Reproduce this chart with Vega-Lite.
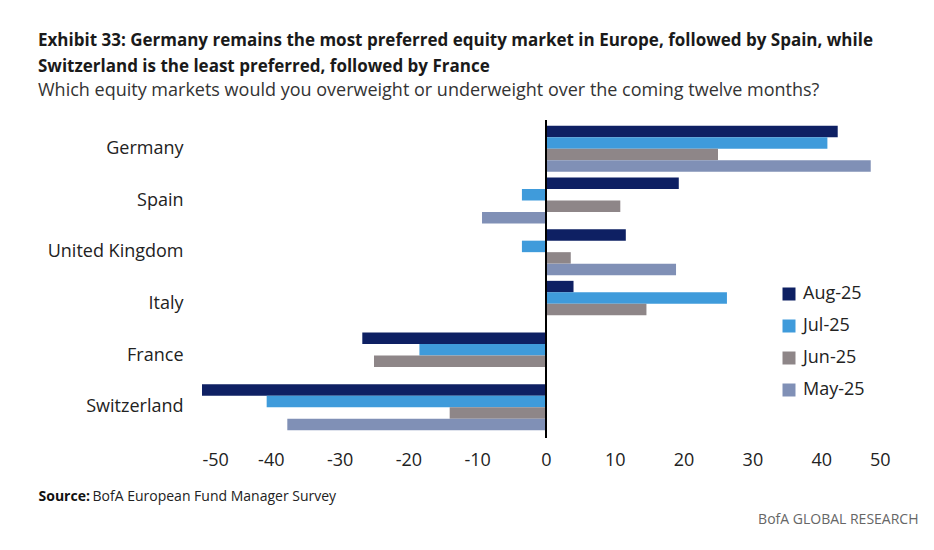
{
  "$schema": "https://vega.github.io/schema/vega-lite/v6.json",
  "width": 688,
  "height": 310,
  "autosize": {"type": "none"},
  "padding": {"left": 202, "top": 123, "right": 44, "bottom": 117},
  "background": "white",
  "config": {
    "view": {"stroke": null},
    "font": "Open Sans, sans-serif"
  },
  "title": {
    "text": ["Exhibit 33: Germany remains the most preferred equity market in Europe, followed by Spain, while", "Switzerland is the least preferred, followed by France"],
    "subtitle": "Which equity markets would you overweight or underweight over the coming twelve months?",
    "anchor": "start",
    "frame": "group",
    "dx": -164,
    "offset": 18,
    "font": "Open Sans, sans-serif",
    "fontSize": 17,
    "fontWeight": "bold",
    "color": "#1a1a1a",
    "lineHeight": 26,
    "subtitleFont": "Open Sans, sans-serif",
    "subtitleFontSize": 18,
    "subtitleColor": "#333333",
    "subtitlePadding": 6
  },
  "data": {
    "values": [
      {"Country": "Germany", "Month": "Aug-25", "Value": 42.4},
      {"Country": "Germany", "Month": "Jul-25", "Value": 40.9},
      {"Country": "Germany", "Month": "Jun-25", "Value": 25.0},
      {"Country": "Germany", "Month": "May-25", "Value": 47.2},
      {"Country": "Spain", "Month": "Aug-25", "Value": 19.3},
      {"Country": "Spain", "Month": "Jul-25", "Value": -3.5},
      {"Country": "Spain", "Month": "Jun-25", "Value": 10.8},
      {"Country": "Spain", "Month": "May-25", "Value": -9.3},
      {"Country": "United Kingdom", "Month": "Aug-25", "Value": 11.6},
      {"Country": "United Kingdom", "Month": "Jul-25", "Value": -3.5},
      {"Country": "United Kingdom", "Month": "Jun-25", "Value": 3.6},
      {"Country": "United Kingdom", "Month": "May-25", "Value": 18.9},
      {"Country": "Italy", "Month": "Aug-25", "Value": 4.0},
      {"Country": "Italy", "Month": "Jul-25", "Value": 26.3},
      {"Country": "Italy", "Month": "Jun-25", "Value": 14.6},
      {"Country": "Italy", "Month": "May-25", "Value": 0},
      {"Country": "France", "Month": "Aug-25", "Value": -26.7},
      {"Country": "France", "Month": "Jul-25", "Value": -18.4},
      {"Country": "France", "Month": "Jun-25", "Value": -25.0},
      {"Country": "France", "Month": "May-25", "Value": 0},
      {"Country": "Switzerland", "Month": "Aug-25", "Value": -50.0},
      {"Country": "Switzerland", "Month": "Jul-25", "Value": -40.6},
      {"Country": "Switzerland", "Month": "Jun-25", "Value": -14.0},
      {"Country": "Switzerland", "Month": "May-25", "Value": -37.6}
    ]
  },
  "layer": [
    {
      "mark": {"type": "bar"},
      "encoding": {
        "y": {
          "field": "Country",
          "type": "nominal",
          "sort": ["Germany", "Spain", "United Kingdom", "Italy", "France", "Switzerland"],
          "scale": {"paddingInner": 0.11, "paddingOuter": 0.055},
          "axis": {
            "title": "BofA European Fund Manager Survey",
            "titleAngle": 0,
            "titleX": -110,
            "titleY": 377,
            "titleAlign": "left",
            "titleBaseline": "alphabetic",
            "titleFont": "Open Sans",
            "titleFontSize": 14,
            "titleFontWeight": "normal",
            "titleColor": "#222222",
            "domain": false,
            "ticks": false,
            "labelPadding": 19,
            "labelFontSize": 18,
            "labelColor": "#222222"
          }
        },
        "yOffset": {
          "field": "Month",
          "type": "nominal",
          "sort": ["Aug-25", "Jul-25", "Jun-25", "May-25"]
        },
        "x": {
          "field": "Value",
          "type": "quantitative",
          "scale": {"domain": [-50, 50], "nice": false},
          "axis": {
            "values": [-50, -40, -30, -20, -10, 0, 10, 20, 30, 40, 50],
            "labelExpr": "replace(datum.label, '\u2212', '-')",
            "grid": false,
            "domain": false,
            "ticks": false,
            "labelPadding": 18,
            "labelFontSize": 18,
            "labelColor": "#222222",
            "title": "Source:",
            "titleX": -164,
            "titleY": 67,
            "titleAlign": "left",
            "titleBaseline": "alphabetic",
            "titleFont": "Open Sans",
            "titleFontSize": 14,
            "titleFontWeight": "bold",
            "titleColor": "#111111"
          }
        },
        "color": {
          "field": "Month",
          "type": "nominal",
          "sort": ["Aug-25", "Jul-25", "Jun-25", "May-25"],
          "scale": {
            "domain": ["Aug-25", "Jul-25", "Jun-25", "May-25"],
            "range": ["#0e2063", "#3f9bdb", "#8e8688", "#8090b6"]
          },
          "legend": {
            "title": null,
            "orient": "none",
            "legendX": 578,
            "legendY": 162,
            "symbolType": "square",
            "symbolSize": 169,
            "symbolStrokeWidth": 0,
            "labelFontSize": 18,
            "labelColor": "#222222",
            "rowPadding": 14,
            "labelOffset": 5
          }
        }
      }
    },
    {
      "mark": {"type": "rule", "color": "#000000", "strokeWidth": 1.5},
      "encoding": {
        "x": {
          "datum": 0,
          "type": "quantitative",
          "scale": {"domain": [-50, 50], "nice": false},
          "axis": {
            "orient": "bottom",
            "labels": false,
            "ticks": false,
            "domain": false,
            "grid": false,
            "title": "BofA GLOBAL RESEARCH",
            "titleX": 716,
            "titleY": 90,
            "titleAlign": "right",
            "titleBaseline": "alphabetic",
            "titleFont": "Open Sans",
            "titleFontSize": 14,
            "titleFontWeight": "normal",
            "titleColor": "#666666"
          }
        },
        "y": {"value": -3},
        "y2": {"value": 315}
      }
    }
  ],
  "resolve": {"scale": {"x": "independent"}, "axis": {"x": "independent"}}
}
